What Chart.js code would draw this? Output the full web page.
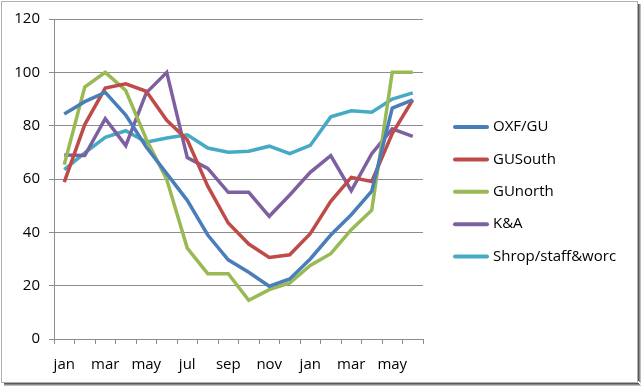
<!DOCTYPE html>
<html>
<head>
<meta charset="utf-8">
<script src="https://cdn.jsdelivr.net/npm/chart.js@4"></script>
<style>
html,body{margin:0;padding:0;background:#fff;}
#wrap{width:644px;height:389px;}
</style>
</head>
<body>
<div id="wrap"><canvas id="c" width="644" height="389"></canvas></div>
<script>
const categories = ['jan','feb','mar','apr','may','jun','jul','aug','sep','oct','nov','dec','jan','feb','mar','apr','may','jun'];
const oxfGU   = [84.4, 89, 92.5, 84, 72, 62, 52, 39, 29.7, 25, 19.8, 22.5, 30, 39, 46.6, 55.4, 86.6, 89.7];
const guSouth = [58.8, 80.4, 94.1, 95.7, 92.9, 82, 74.7, 57.3, 43.5, 35.6, 30.6, 31.6, 39.5, 51.6, 60.6, 59.1, 77, 89.7];
const guNorth = [65.4, 94.5, 100, 93.2, 75, 59.8, 34.1, 24.5, 24.5, 14.5, 18.5, 21, 27.6, 32, 41, 48.3, 100, 100];
const kAndA   = [69, 68.8, 82.6, 72.5, 92.3, 100, 68, 64, 55, 55, 46, 54, 62.5, 68.8, 55.6, 69.5, 78.8, 76];
const shrop   = [63.5, 69.8, 75.6, 78.1, 73.8, 75.4, 76.6, 71.6, 70, 70.4, 72.3, 69.5, 72.6, 83.3, 85.6, 85, 90, 92.3];
const seriesNames = ['OXF/GU','GUSouth','GUnorth','K&A','Shrop/staff&worc'];
const yTicks = [0, 20, 40, 60, 80, 100, 120];

const colors = ['#4A7EBB','#BE4B48','#98B954','#7D60A0','#46AAC5'];
const seriesData = [oxfGU, guSouth, guNorth, kAndA, shrop];
const FONT = '"Open Sans", "Noto Sans", sans-serif';

const framePlugin = {
  id: 'frame',
  beforeDraw(chart) {
    const ctx = chart.ctx;
    ctx.save();
    ctx.fillStyle = '#fff';
    ctx.fillRect(0, 0, chart.width, chart.height);
    const shades = ['#5a5a5a','#8a8a8a','#bdbdbd'];
    shades.forEach((c, k) => {
      ctx.fillStyle = c;
      ctx.fillRect(638 + k, 4, 1, 381 - 4 + k);
      ctx.fillRect(4, 383 + k, 635 + k, 1);
    });
    ctx.strokeStyle = '#b0b0b0';
    ctx.lineWidth = 1;
    ctx.strokeRect(1.5, 1.5, 636, 381);
    ctx.restore();
  }
};

const legendPlugin = {
  id: 'customLegend',
  afterDraw(chart) {
    const ctx = chart.ctx;
    ctx.save();
    chart.data.datasets.forEach((ds, i) => {
      const y = 127 + i * 32.4;
      ctx.strokeStyle = ds.borderColor;
      ctx.lineWidth = 4;
      ctx.lineCap = 'round';
      ctx.beginPath();
      ctx.moveTo(455, y);
      ctx.lineTo(487, y);
      ctx.stroke();
      ctx.fillStyle = '#000';
      ctx.font = '15px ' + FONT;
      ctx.textBaseline = 'middle';
      ctx.textAlign = 'left';
      ctx.fillText(ds.label, 493, y);
    });
    ctx.restore();
  }
};

new Chart(document.getElementById('c'), {
  type: 'line',
  data: {
    labels: categories,
    datasets: seriesNames.map((n, i) => ({
      label: n,
      data: seriesData[i],
      borderColor: colors[i],
      backgroundColor: colors[i],
      borderWidth: 3.5,
      pointRadius: 0,
      tension: 0,
      fill: false
    }))
  },
  options: {
    responsive: false,
    animation: false,
    devicePixelRatio: 1,
    layout: { padding: { left: 0, top: 19, right: 221, bottom: 0 } },
    plugins: { legend: { display: false }, tooltip: { enabled: false } },
    scales: {
      x: {
        type: 'category',
        offset: true,
        grid: { offset: true, drawOnChartArea: false, color: '#8c8c8c', tickLength: 5, tickWidth: 1 },
        border: { color: '#8c8c8c', width: 1 },
        ticks: {
          autoSkip: false, maxRotation: 0, minRotation: 0, padding: 12,
          color: '#000', font: { family: FONT, size: 15 },
          callback: function(v, i) { return i % 2 === 0 ? this.getLabelForValue(v) : ''; }
        },
        afterFit(s) { s.height = 50; }
      },
      y: {
        min: 0, max: 120,
        afterBuildTicks(s) { s.ticks = yTicks.map(v => ({ value: v })); },
        grid: { color: '#8c8c8c', tickLength: 5, lineWidth: 1 },
        border: { color: '#8c8c8c', width: 1 },
        ticks: { color: '#000', padding: 9, font: { family: FONT, size: 15 } },
        afterFit(s) { s.width = 54; }
      }
    }
  },
  plugins: [framePlugin, legendPlugin]
});
</script>
</body>
</html>
